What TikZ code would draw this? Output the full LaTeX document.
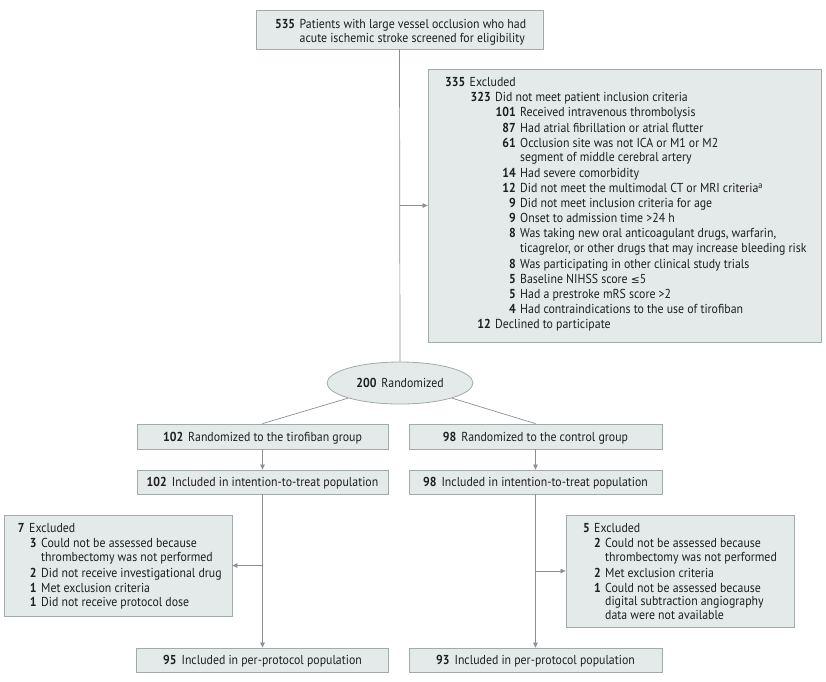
\documentclass[tikz,border=0pt]{standalone}
\usepackage{fontspec}
\setmainfont{PT Sans}[FakeStretch=0.91]
\newfontfamily\symf{DejaVu Sans}[Scale=0.82]
\usetikzlibrary{arrows.meta,shapes.geometric}
\definecolor{boxfill}{HTML}{E4EAEA}
\definecolor{boxline}{HTML}{A2AAAA}
\definecolor{connc}{HTML}{8E8E8E}
\definecolor{txtc}{HTML}{1E1E1E}
\newcommand\rowtxt[5]{\node[lntxt] (#1) at (#2,#3) {\llap{\bfseries #4\hspace{4.5pt}}#5};}
\begin{document}
\begin{tikzpicture}[x=1pt,y=-1pt,
  box/.style={draw=boxline, fill=boxfill, line width=0.8pt, inner sep=0pt},
  fnt/.style={font=\fontsize{13}{15}\selectfont, text=txtc},
  lntxt/.style={fnt, anchor=base west, inner sep=0pt},
  ctrtxt/.style={fnt, anchor=base, inner sep=0pt},
  connl/.style={draw=connc, line width=0.7pt},
  arr/.style={connl, -{Triangle[length=5pt,width=4.5pt]}}
]
\useasboundingbox (0,0) rectangle (826,681);

% boxes
\node[box, minimum width=287, minimum height=39] (top) at (399.5,29.5) {};
\node[box, minimum width=393, minimum height=273] (excl) at (624.5,205.5) {};
\node[box, ellipse, minimum width=146, minimum height=42, fnt] (rand) at (400,383) {\textbf{200}\hspace{5pt}Randomized};
\node[box, minimum width=251, minimum height=25] (tir) at (262.5,436.5) {};
\node[box, minimum width=253, minimum height=25] (ctl) at (535.5,436.5) {};
\node[box, minimum width=251, minimum height=24] (itl) at (262.5,482) {};
\node[box, minimum width=253, minimum height=24] (itr) at (535.5,482) {};
\node[box, minimum width=228, minimum height=101] (exl) at (118,565.5) {};
\node[box, minimum width=228, minimum height=112] (exr) at (680,571) {};
\node[box, minimum width=252, minimum height=24] (ppl) at (262.5,660) {};
\node[box, minimum width=253, minimum height=24] (ppr) at (535.5,660) {};

% connectors
\coordinate (j1) at (399.5,205.5);
\coordinate (j2) at (262.5,565.5);
\coordinate (j3) at (535.5,571);
\draw[connl] (top.south) -- (rand.north);
\draw[arr] (j1) -- (excl.west);
\draw[connl] (rand.south west) -- (tir.north);
\draw[connl] (rand.south east) -- (ctl.north);
\draw[arr] (tir.south) -- (itl.north);
\draw[arr] (ctl.south) -- (itr.north);
\draw[arr] (itl.south) -- (ppl.north);
\draw[arr] (itr.south) -- (ppr.north);
\draw[arr] (j2) -- (exl.east);
\draw[arr] (j3) -- (exr.west);

% top box text
\rowtxt{t1}{299.5}{28.5}{535}{Patients with large vessel occlusion who had}
\rowtxt{t2}{299.5}{42}{}{acute ischemic stroke screened for eligibility}

% excluded box text
\rowtxt{k0}{469.5}{86.7}{335}{Excluded}
\rowtxt{k1}{495}{101.8}{323}{Did not meet patient inclusion criteria}
\rowtxt{k2}{520}{116.9}{101}{Received intravenous thrombolysis}
\rowtxt{k3}{520}{132.0}{87}{Had atrial fibrillation or atrial flutter}
\rowtxt{k4}{520}{147.1}{61}{Occlusion site was not ICA or M1 or M2}
\rowtxt{k5}{520}{161.7}{}{segment of middle cerebral artery}
\rowtxt{k6}{520}{177.3}{14}{Had severe comorbidity}
\rowtxt{k7}{520}{192.4}{12}{Did not meet the multimodal CT or MRI criteria\textsuperscript{a}}
\rowtxt{k8}{520}{207.6}{9}{Did not meet inclusion criteria for age}
\rowtxt{k9}{520}{222.7}{9}{Onset to admission time >24 h}
\rowtxt{k10}{520}{237.8}{8}{Was taking new oral anticoagulant drugs, warfarin,}
\rowtxt{k11}{520}{252.4}{}{ticagrelor, or other drugs that may increase bleeding risk}
\rowtxt{k12}{520}{268.0}{8}{Was participating in other clinical study trials}
\rowtxt{k13}{520}{283.1}{5}{Baseline NIHSS score {\symf ≤}5}
\rowtxt{k14}{520}{298.2}{5}{Had a prestroke mRS score >2}
\rowtxt{k15}{520}{313.3}{4}{Had contraindications to the use of tirofiban}
\rowtxt{k16}{495}{328.4}{12}{Declined to participate}

% middle box texts
\node[ctrtxt] (tirt) at (262.5,441) {\textbf{102}\hspace{5pt}Randomized to the tirofiban group};
\node[ctrtxt] (ctlt) at (535.5,441) {\textbf{98}\hspace{5pt}Randomized to the control group};
\node[ctrtxt] (itlt) at (262.5,486.5) {\textbf{102}\hspace{5pt}Included in intention-to-treat population};
\node[ctrtxt] (itrt) at (535.5,486.5) {\textbf{98}\hspace{5pt}Included in intention-to-treat population};
\node[ctrtxt] (pplt) at (262.5,664.5) {\textbf{95}\hspace{5pt}Included in per-protocol population};
\node[ctrtxt] (pprt) at (535.5,664.5) {\textbf{93}\hspace{5pt}Included in per-protocol population};

% left exclusion text
\rowtxt{a0}{29}{532.3}{7}{Excluded}
\rowtxt{a1}{41}{547.5}{3}{Could not be assessed because}
\rowtxt{a2}{41}{561.5}{}{thrombectomy was not performed}
\rowtxt{a3}{41}{577}{2}{Did not receive investigational drug}
\rowtxt{a4}{41}{592}{1}{Met exclusion criteria}
\rowtxt{a5}{41}{606.7}{1}{Did not receive protocol dose}

% right exclusion text
\rowtxt{b0}{594}{532.3}{5}{Excluded}
\rowtxt{b1}{605}{547.5}{2}{Could not be assessed because}
\rowtxt{b2}{605}{561.5}{}{thrombectomy was not performed}
\rowtxt{b3}{605}{577}{2}{Met exclusion criteria}
\rowtxt{b4}{605}{592}{1}{Could not be assessed because}
\rowtxt{b5}{605}{605.7}{}{digital subtraction angiography}
\rowtxt{b6}{605}{619.3}{}{data were not available}
\end{tikzpicture}
\end{document}
